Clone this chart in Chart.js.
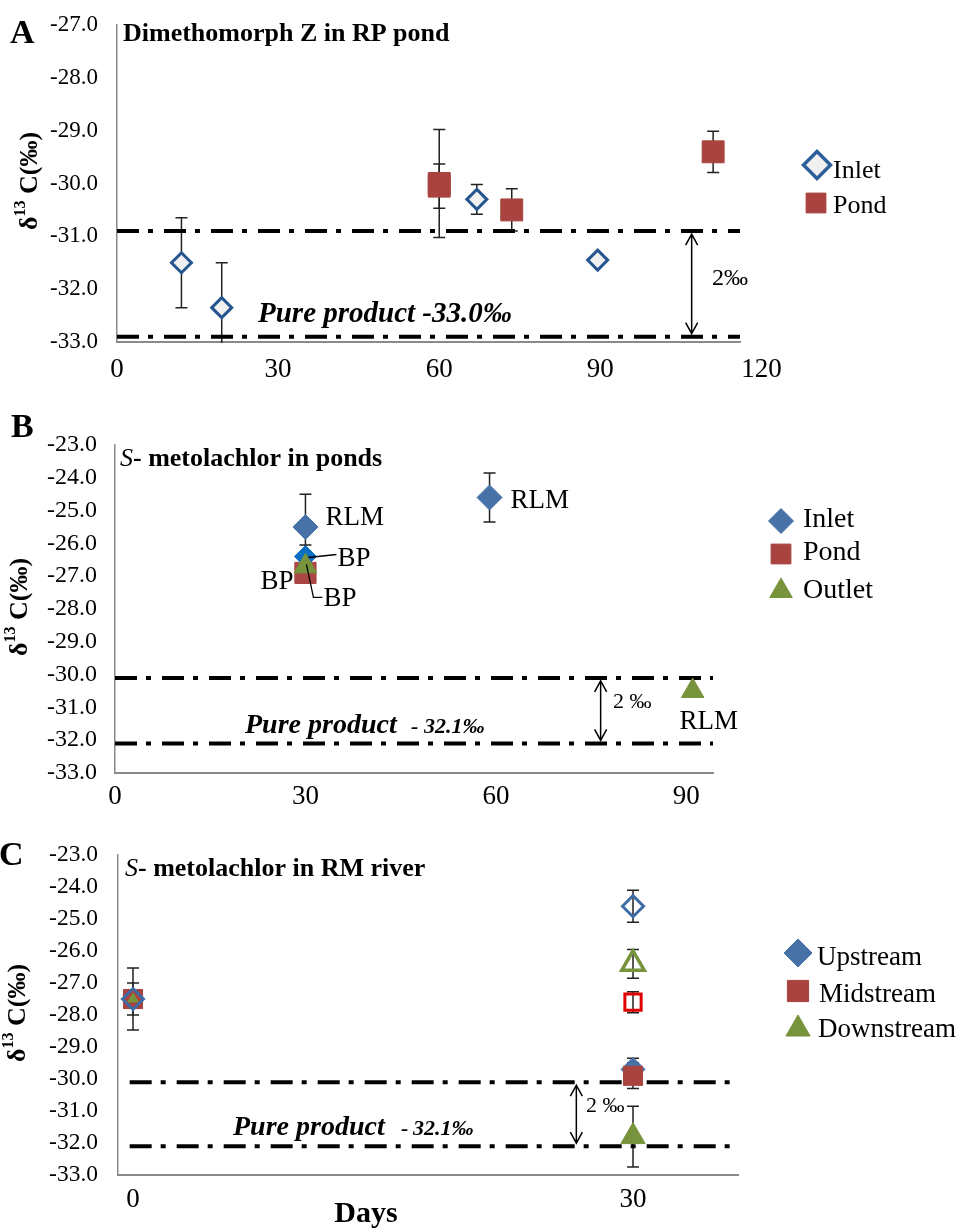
<!DOCTYPE html>
<html><head><meta charset="utf-8">
<script src="https://cdn.jsdelivr.net/npm/chart.js@4.4.0/dist/chart.umd.min.js"></script>
<style>
html,body{margin:0;padding:0;background:#fff;width:961px;height:1229px;overflow:hidden;position:relative;}
.p{position:absolute;left:0;width:961px;}
</style></head><body>
<div class="p" style="top:-12px;height:407px"><canvas id="ca"></canvas></div>
<div class="p" style="top:395px;height:420px"><canvas id="cb"></canvas></div>
<div class="p" style="top:815px;height:414px"><canvas id="cc"></canvas></div>
<script>
// ================= DATA =================
// Panel A : Dimethomorph Z in RP pond
const xTicksA = [0, 30, 60, 90, 120];
const inletDaysA = [12, 19.5, 67, 89.5];
const inletD13CA = [-31.5, -32.35, -30.3, -31.45];
const inletErrA  = [0.85, 0.85, 0.28, 0];
const pondDaysA  = [60, 60, 73.5, 111];
const pondD13CA  = [-30.0, -30.05, -30.5, -29.4];
const pondErrA   = [1.02, 0.42, 0.4, 0.39];
const bandA = [-30.9, -32.9];          // 2‰ band above pure product
const bandDaysA = [0, 116];
const arrowDayA = 107;

// Panel B : S-metolachlor in ponds
const xTicksB = [0, 30, 60, 90];
const inletDaysB  = [30, 59];
const inletD13CB  = [-25.5, -24.6];
const inletErrB   = [1.0, 0.75];
const inletLblB   = ['RLM', 'RLM'];
const inletBPDaysB = [30];
const inletBPD13CB = [-26.4];
const inletBPErrB  = [0.35];
const pondDaysB   = [30];
const pondD13CB   = [-26.9];
const pondErrB    = [0];
const outletDaysB = [30, 91];
const outletD13CB = [-26.7, -30.5];
const outletErrB  = [0, 0];
const outletLblB  = ['BP', 'RLM'];
const bandB = [-30.1, -32.1];
const bandDaysB = [0, 94.2];
const arrowDayB = 76.5;

// Panel C : S-metolachlor in RM river
const xTicksC = [0, 30];
const upDaysC = [30],      upD13CC = [-29.7],        upErrC = [0.35];
const midDaysC = [0, 30],  midD13CC = [-27.5, -29.9], midErrC = [0.97, 0.4];
const downDaysC = [0, 30], downD13CC = [-27.5, -31.8], downErrC = [0, 0.95];
const upHDaysC = [0, 30],  upHD13CC = [-27.5, -24.6], upHErrC = [0.5, 0.5];
const midHDaysC = [30],    midHD13CC = [-27.6],       midHErrC = [0.33];
const downHDaysC = [30],   downHD13CC = [-26.4],      downHErrC = [0.45];
const bandC = [-30.1, -32.1];
const bandDaysC = [-0.2, 36.3];
const arrowDayC = 26.6;

// ================= HELPERS =================
const FONT = "'Liberation Serif','Times New Roman',serif";
Chart.defaults.font.family = FONT;
const W = 961;
const BLUE = '#4672A8', RED = '#A9433F', GREEN = '#77933C';

function pts(label, xs, ys, errs, style) {
  return Object.assign({label, data: xs.map((x, i) => ({x, y: ys[i]})), errs, showLine: false}, style);
}
function band(xs, v) {
  return {label: '', data: xs.map(x => ({x, y: v})), showLine: true, pointRadius: 0, borderColor: '#000',
          borderWidth: 4, borderDash: [22, 9, 5, 11], borderCapStyle: 'butt', order: 20, errs: []};
}
function txt(ctx, s, x, y, font, align) {
  ctx.save(); ctx.font = font; ctx.fillStyle = '#000'; ctx.textAlign = align || 'left';
  ctx.textBaseline = 'alphabetic'; ctx.fillText(s, x, y); ctx.restore();
  ctx.font = font; return ctx.measureText(s).width;
}
function dArrow(ctx, x, y1, y2) {
  ctx.save(); ctx.strokeStyle = '#000'; ctx.lineWidth = 1.5;
  ctx.beginPath(); ctx.moveTo(x, y1); ctx.lineTo(x, y2);
  ctx.moveTo(x - 6, y1 + 11); ctx.lineTo(x, y1); ctx.lineTo(x + 6, y1 + 11);
  ctx.moveTo(x - 6, y2 - 11); ctx.lineTo(x, y2); ctx.lineTo(x + 6, y2 - 11);
  ctx.stroke(); ctx.restore();
}
function legendItem(ctx, st, x, y, label, tx, ty, font) {
  ctx.save(); ctx.fillStyle = st.bg; ctx.strokeStyle = st.bc; ctx.lineWidth = st.bw;
  Chart.helpers.drawPoint(ctx, {pointStyle: st.ps, radius: st.r, rotation: 0, borderWidth: st.bw}, x, y);
  ctx.restore();
  txt(ctx, label, tx, ty, font);
}
function leader(ctx, path) {
  ctx.save(); ctx.strokeStyle = '#000'; ctx.lineWidth = 1.3; ctx.beginPath();
  path.forEach((p, i) => i ? ctx.lineTo(p[0], p[1]) : ctx.moveTo(p[0], p[1]));
  ctx.stroke(); ctx.restore();
}
function yTitle(ctx, cx, cy) {
  ctx.save(); ctx.translate(cx, cy); ctx.rotate(-Math.PI / 2);
  const big = 'bold 26px ' + FONT, small = 'bold 16px ' + FONT;
  ctx.font = big; const w1 = ctx.measureText('δ').width, w3 = ctx.measureText(' C(‰)').width;
  ctx.font = small; const w2 = ctx.measureText('13').width;
  let x = -(w1 + w2 + w3) / 2;
  ctx.fillStyle = '#000'; ctx.textBaseline = 'middle';
  ctx.font = big; ctx.fillText('δ', x, 0); x += w1;
  ctx.font = small; ctx.fillText('13', x, -9); x += w2;
  ctx.font = big; ctx.fillText(' C(‰)', x, 0);
  ctx.restore();
}
function drawErr(chart) {
  const {ctx, chartArea: a, scales: {x, y}} = chart;
  ctx.save(); ctx.beginPath(); ctx.rect(a.left, a.top - 2, a.right - a.left, a.bottom - a.top + 3); ctx.clip();
  ctx.strokeStyle = '#222'; ctx.lineWidth = 1.5;
  chart.data.datasets.forEach(ds => {
    (ds.errs || []).forEach((e, i) => {
      if (!e) return;
      const p = ds.data[i], px = x.getPixelForValue(p.x);
      const t = y.getPixelForValue(p.y + e), b = y.getPixelForValue(p.y - e);
      ctx.beginPath(); ctx.moveTo(px, t); ctx.lineTo(px, b);
      ctx.moveTo(px - 6, t); ctx.lineTo(px + 6, t); ctx.moveTo(px - 6, b); ctx.lineTo(px + 6, b);
      ctx.stroke();
    });
  });
  ctx.restore();
}

function makeChart(id, c) {
  const XH = 40;
  const pad = {left: 0, right: W - c.area.r, top: c.area.t - c.top, bottom: c.top + c.h - c.area.b - XH};
  return new Chart(document.getElementById(id), {
    type: 'scatter',
    data: {datasets: c.datasets},
    options: {
      responsive: true, maintainAspectRatio: false, animation: false,
      layout: {padding: pad},
      plugins: {legend: {display: false}, tooltip: {enabled: false}},
      scales: {
        x: {type: 'linear', min: c.xMin, max: c.xMax,
            afterBuildTicks: s => { s.ticks = c.xTicks.map(v => ({value: v})); },
            afterFit: s => { s.height = XH; },
            grid: {display: false, drawTicks: false},
            border: {display: true, color: '#8a8a8a', width: 2},
            ticks: {font: {family: FONT, size: 27}, color: '#000', padding: c.xPad,
                    maxRotation: 0, autoSkip: false, callback: v => String(v)}},
        y: {type: 'linear', min: -33, max: c.yMax,
            afterFit: s => { s.width = c.area.l; },
            grid: {display: false, drawTicks: false},
            border: {display: true, color: '#8a8a8a', width: 1.5},
            ticks: {stepSize: 1, font: {family: FONT, size: c.yFont}, color: '#000', padding: c.yPad,
                    callback: v => Number(v).toFixed(1)}}
      }
    },
    plugins: [{
      id: 'decor_' + id,
      beforeDatasetsDraw: chart => drawErr(chart),
      afterDraw: chart => {
        const ctx = chart.ctx;
        const xp = v => chart.scales.x.getPixelForValue(v);
        const yp = v => chart.scales.y.getPixelForValue(v) + c.top;
        ctx.save(); ctx.translate(0, -c.top);   // draw in page coordinates
        c.decorate(ctx, xp, yp);
        ctx.restore();
      }
    }]
  });
}

// ================= PANEL A =================
makeChart('ca', {
  top: -12, h: 407, area: {l: 117, r: 740, t: 25, b: 342},
  xMin: 0, xMax: 116, xTicks: xTicksA, yMax: -27, yFont: 23, yPad: 19, xPad: 12,
  datasets: [
    pts('Inlet', inletDaysA, inletD13CA, inletErrA,
        {pointStyle: 'rectRot', pointRadius: 10, backgroundColor: '#F0F0F0', borderColor: '#24558F', borderWidth: 3}),
    pts('Pond', pondDaysA, pondD13CA, pondErrA,
        {pointStyle: 'rect', pointRadius: 15.5, backgroundColor: RED, borderColor: RED, borderWidth: 1}),
    band(bandDaysA, bandA[0]), band(bandDaysA, bandA[1])
  ],
  decorate: (ctx, xp, yp) => {
    txt(ctx, 'A', 10, 43, 'bold 34px ' + FONT);
    txt(ctx, 'Dimethomorph Z in RP pond', 123, 41, 'bold 26px ' + FONT);
    yTitle(ctx, 30, 181);
    txt(ctx, 'Pure product -33.0‰', 258, 322, 'italic bold 29px ' + FONT);
    dArrow(ctx, xp(arrowDayA), yp(bandA[0]) + 3, yp(bandA[1]) - 3);
    txt(ctx, '2‰', 712, 285, '24px ' + FONT);
    legendItem(ctx, {ps: 'rectRot', r: 13.5, bg: '#F0F0F0', bc: '#2C5E9A', bw: 3.5}, 817, 165, 'Inlet', 833, 178, '26px ' + FONT);
    legendItem(ctx, {ps: 'rect', r: 14, bg: RED, bc: RED, bw: 1}, 816, 203, 'Pond', 833, 213, '26px ' + FONT);
  }
});

// ================= PANEL B =================
makeChart('cb', {
  top: 395, h: 420, area: {l: 115, r: 713, t: 445, b: 773},
  xMin: 0, xMax: 94.2, xTicks: xTicksB, yMax: -23, yFont: 24, yPad: 18, xPad: 8,
  datasets: [
    pts('Inlet', inletDaysB, inletD13CB, inletErrB,
        {pointStyle: 'rectRot', pointRadius: 12.5, backgroundColor: BLUE, borderColor: BLUE, borderWidth: 1, order: 0}),
    pts('Inlet BP', inletBPDaysB, inletBPD13CB, inletBPErrB,
        {pointStyle: 'rectRot', pointRadius: 11, backgroundColor: '#0A6FC2', borderColor: '#0A6FC2', borderWidth: 1, order: 3}),
    pts('Pond', pondDaysB, pondD13CB, pondErrB,
        {pointStyle: 'rect', pointRadius: 15, backgroundColor: '#AA4643', borderColor: '#AA4643', borderWidth: 1, order: 2}),
    pts('Outlet', outletDaysB, outletD13CB, outletErrB,
        {pointStyle: 'triangle', pointRadius: 13, backgroundColor: GREEN, borderColor: GREEN, borderWidth: 1, order: 1}),
    band(bandDaysB, bandB[0]), band(bandDaysB, bandB[1])
  ],
  decorate: (ctx, xp, yp) => {
    const f27 = '27px ' + FONT;
    txt(ctx, 'B', 11, 437, 'bold 34px ' + FONT);
    const sw = txt(ctx, 'S', 120, 466, 'italic 26px ' + FONT);
    txt(ctx, '- metolachlor in ponds', 120 + sw, 466, 'bold 26px ' + FONT);
    yTitle(ctx, 20, 607);
    txt(ctx, 'Pure product', 245, 733, 'italic bold 28px ' + FONT);
    txt(ctx, '-', 411, 733, 'italic bold 22px ' + FONT);
    txt(ctx, '32.1‰', 424, 733, 'italic bold 22px ' + FONT);
    dArrow(ctx, xp(arrowDayB), yp(bandB[0]) + 3, yp(bandB[1]) - 3);
    txt(ctx, '2 ‰', 613, 708, '22px ' + FONT);
    // point labels
    let px = xp(inletDaysB[0]), py = yp(inletD13CB[0]);
    txt(ctx, inletLblB[0], px + 20, py - 2, f27);
    px = xp(inletDaysB[1]); py = yp(inletD13CB[1]);
    txt(ctx, inletLblB[1], px + 21, py + 11, f27);
    px = xp(inletBPDaysB[0]); py = yp(inletBPD13CB[0]);
    leader(ctx, [[px + 3, py + 1], [px + 31, py - 2]]);
    txt(ctx, 'BP', px + 32, py + 9, f27);
    px = xp(pondDaysB[0]); py = yp(pondD13CB[0]);
    txt(ctx, 'BP', px - 12, py + 16, f27, 'right');
    px = xp(outletDaysB[0]); py = yp(outletD13CB[0]);
    leader(ctx, [[px + 1, py - 2], [px + 8, py + 31], [px + 17, py + 31]]);
    txt(ctx, outletLblB[0], px + 18, py + 40, f27);
    px = xp(outletDaysB[1]); py = yp(outletD13CB[1]);
    txt(ctx, outletLblB[1], px + 16, py + 38, f27, 'center');
    // legend
    const f28 = '28px ' + FONT;
    legendItem(ctx, {ps: 'rectRot', r: 12.5, bg: BLUE, bc: BLUE, bw: 1}, 781, 521, 'Inlet', 803, 527, f28);
    legendItem(ctx, {ps: 'rect', r: 14, bg: RED, bc: RED, bw: 1}, 781, 554, 'Pond', 803, 560, f28);
    legendItem(ctx, {ps: 'triangle', r: 13, bg: GREEN, bc: GREEN, bw: 1}, 781, 591, 'Outlet', 803, 598, f28);
  }
});

// ================= PANEL C =================
makeChart('cc', {
  top: 815, h: 414, area: {l: 118, r: 738, t: 855, b: 1175},
  xMin: -0.9, xMax: 36.3, xTicks: xTicksC, yMax: -23, yFont: 23.5, yPad: 20, xPad: 9,
  datasets: [
    pts('Upstream', upDaysC, upD13CC, upErrC,
        {pointStyle: 'rectRot', pointRadius: 12, backgroundColor: BLUE, borderColor: BLUE, borderWidth: 1, order: 3}),
    pts('Midstream', midDaysC, midD13CC, midErrC,
        {pointStyle: 'rect', pointRadius: 13.5, backgroundColor: RED, borderColor: RED, borderWidth: 1, order: 2}),
    pts('Downstream', downDaysC, downD13CC, downErrC,
        {pointStyle: 'triangle', pointRadius: c => (c.raw && c.raw.x === 0) ? 6 : 14,
         backgroundColor: GREEN, borderColor: GREEN, borderWidth: 1, order: 1}),
    pts('Upstream (open)', upHDaysC, upHD13CC, upHErrC,
        {pointStyle: 'rectRot', pointRadius: 10.5, backgroundColor: 'rgba(0,0,0,0)', borderColor: '#3D6BA5', borderWidth: 3, order: 0}),
    pts('Midstream (open)', midHDaysC, midHD13CC, midHErrC,
        {pointStyle: 'rect', pointRadius: 11.5, backgroundColor: 'rgba(0,0,0,0)', borderColor: '#E00000', borderWidth: 3, order: 0}),
    pts('Downstream (open)', downHDaysC, downHD13CC, downHErrC,
        {pointStyle: 'triangle', pointRadius: 13, backgroundColor: 'rgba(0,0,0,0)', borderColor: GREEN, borderWidth: 3.5, order: 0}),
    band(bandDaysC, bandC[0]), band(bandDaysC, bandC[1])
  ],
  decorate: (ctx, xp, yp) => {
    txt(ctx, 'C', -1, 865, 'bold 34px ' + FONT);
    const sw = txt(ctx, 'S', 125, 876, 'italic 26px ' + FONT);
    txt(ctx, '- metolachlor in RM river', 125 + sw, 876, 'bold 26px ' + FONT);
    yTitle(ctx, 18, 1013);
    txt(ctx, 'Pure product', 233, 1135, 'italic bold 28px ' + FONT);
    txt(ctx, '-', 401, 1135, 'italic bold 22px ' + FONT);
    txt(ctx, '32.1‰', 413, 1135, 'italic bold 22px ' + FONT);
    dArrow(ctx, xp(arrowDayC), yp(bandC[0]) + 3, yp(bandC[1]) - 3);
    txt(ctx, '2 ‰', 586, 1112, '22px ' + FONT);
    txt(ctx, 'Days', 366, 1222, 'bold 30px ' + FONT, 'center');
    const f27 = '27px ' + FONT;
    legendItem(ctx, {ps: 'rectRot', r: 14, bg: BLUE, bc: BLUE, bw: 1}, 798, 953, 'Upstream', 817, 965, f27);
    legendItem(ctx, {ps: 'rect', r: 15, bg: RED, bc: RED, bw: 1}, 798, 991, 'Midstream', 819, 1002, f27);
    legendItem(ctx, {ps: 'triangle', r: 14, bg: GREEN, bc: GREEN, bw: 1}, 798, 1029, 'Downstream', 818, 1037, f27);
  }
});
</script>
</body></html>
